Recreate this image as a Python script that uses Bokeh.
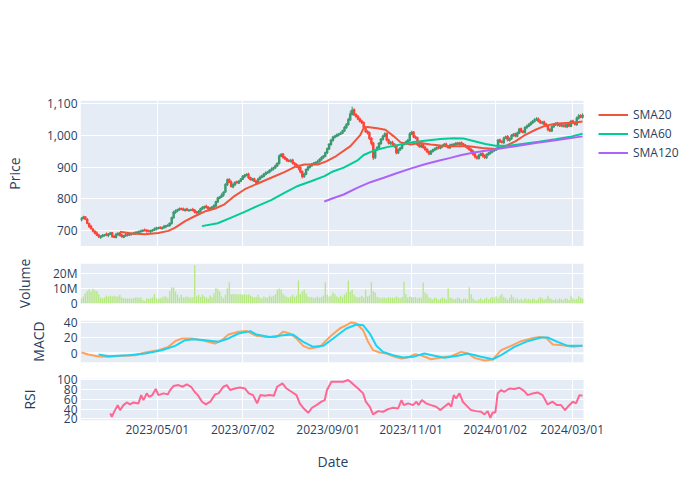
from bokeh.plotting import figure
from bokeh.layouts import column
from bokeh.models import (Range1d, FixedTicker, NumeralTickFormatter, Legend, LegendItem,
                          ColumnDataSource, Span, BoxAnnotation, Title)
from bokeh.embed import file_html
from bokeh.resources import INLINE

# ---------------- data ----------------
tick_pos = [39.5, 84, 128.5, 171.7, 215.5, 255.6]
tick_labels = ["2023/05/01", "2023/07/02", "2023/09/01", "2023/11/01", "2024/01/02", "2024/03/01"]

open_ = [
732,737,743,734,721,713,704,697,691,685,
677,680,683,688,683,687,692,681,677,686,
691,685,678,682,688,684,687,691,688,691,
693,695,697,701,700,698,695,698,700,703,
706,709,705,708,711,713,715,721,739,756,
761,764,769,767,763,767,762,763,766,763,
758,754,759,767,771,776,773,767,769,773,
777,789,801,805,811,821,844,861,853,837,
844,853,849,855,861,869,873,878,867,859,
863,856,849,861,867,871,877,881,884,889,
893,897,903,911,934,941,931,926,921,917,
922,913,909,903,899,886,869,877,891,899,
904,909,911,914,917,923,929,934,944,957,
971,984,994,997,1001,1004,1007,1014,1024,1034,
1049,1067,1081,1066,1061,1053,1046,1041,1026,1013,
1009,991,976,929,954,961,974,987,997,1006,
986,974,979,973,966,944,954,959,971,974,
979,984,1004,1011,996,993,971,964,971,963,
956,949,941,949,954,957,963,959,964,967,
973,966,961,971,967,971,976,971,977,973,
969,966,961,956,951,941,933,927,937,943,
936,929,939,943,947,951,954,959,986,981,
977,991,997,984,989,999,1005,997,1007,1021,
1013,1009,1024,1029,1034,1039,1044,1049,1053,1046,
1039,1043,1036,1031,1019,1014,1027,1034,1039,1031,
1036,1029,1033,1027,1036,1029,1046,1041,1034,1054,
1063,1057]

high = [
741,746,745,739,724,717,706,700,696,689,
684,688,688,693,691,695,694,684,692,694,
694,689,685,691,691,692,692,694,697,698,
699,702,702,706,703,702,701,704,709,711,
711,713,711,717,717,720,724,743,762,766,
768,772,771,772,769,771,766,768,771,767,
760,764,771,776,777,781,776,774,776,783,
793,806,808,817,823,849,864,864,858,849,
855,857,858,865,875,878,880,882,869,866,
866,858,865,873,876,881,886,887,893,899,
901,908,914,940,944,944,935,928,925,926,
926,916,911,907,902,889,882,895,904,910,
913,916,917,923,928,934,938,949,962,976,
989,999,1001,1006,1008,1012,1018,1030,1039,1056,
1078,1091,1086,1070,1064,1057,1050,1044,1030,1016,
1012,994,979,958,966,979,992,1002,1010,1009,
990,982,983,976,969,959,964,975,979,983,
989,1010,1015,1014,1000,996,975,973,974,967,
959,952,954,958,962,965,967,969,971,976,
977,969,974,975,976,979,979,980,981,976,
973,969,965,959,954,945,936,942,946,946,
940,943,948,951,956,958,962,989,990,985,
996,1000,1001,994,1004,1008,1009,1012,1024,1025,
1017,1029,1034,1039,1044,1049,1055,1058,1057,1050,
1046,1047,1040,1034,1023,1032,1039,1042,1043,1039,
1040,1036,1037,1039,1040,1049,1050,1045,1060,1068,
1067,1070]

low = [
728,735,732,719,707,703,693,687,682,675,
673,678,680,681,678,685,676,675,675,682,
680,677,675,679,680,682,683,686,686,687,
689,693,694,696,692,694,691,695,698,699,
702,704,702,705,706,711,711,718,737,752,
757,762,763,761,758,761,758,760,760,753,
750,752,756,764,766,769,764,763,766,769,
773,787,798,802,806,819,840,849,836,833,
840,848,846,852,859,865,871,862,857,855,
853,846,845,859,865,867,873,878,880,886,
889,895,900,908,932,926,922,916,915,915,
908,904,897,890,880,864,866,874,888,895,
901,906,908,910,914,920,926,931,941,954,
967,981,990,994,997,1001,1004,1011,1021,1031,
1046,1063,1062,1056,1048,1041,1036,1021,1008,1003,
986,968,922,925,950,958,970,984,994,981,
971,970,968,961,940,941,951,956,968,971,
975,981,1001,991,988,966,961,960,958,951,
944,937,938,946,950,953,956,956,960,964,
962,958,957,965,963,968,969,967,968,964,
961,956,951,946,935,927,923,924,934,930,
926,926,936,940,944,948,951,956,976,974,
974,988,981,981,986,996,994,994,1004,1008,
1006,1006,1021,1026,1031,1036,1041,1046,1041,1036,
1035,1031,1026,1013,1010,1011,1024,1030,1028,1027,
1026,1025,1024,1023,1026,1026,1036,1031,1031,1050,
1054,1053]

close = [
738,742,735,722,712,705,697,690,684,679,
681,684,686,684,688,691,680,678,687,690,
684,679,683,686,685,688,690,689,692,694,
696,698,700,699,697,696,699,701,704,707,
708,706,709,712,714,716,722,740,757,762,
765,768,766,764,766,763,764,765,762,757,
755,760,768,772,775,772,768,770,774,778,
790,802,806,812,820,845,860,852,838,845,
852,850,856,862,870,874,877,866,860,862,
855,850,862,868,872,878,882,885,890,894,
898,904,912,935,940,930,925,920,918,921,
912,908,902,898,885,870,878,892,900,905,
910,912,915,918,924,930,935,945,958,972,
985,995,998,1002,1005,1008,1015,1025,1035,1050,
1068,1080,1065,1060,1052,1045,1040,1025,1012,1008,
990,975,930,955,962,975,988,998,1005,985,
975,978,972,965,945,955,960,972,975,980,
985,1005,1010,995,992,970,965,970,962,955,
948,942,950,955,958,962,960,965,968,972,
965,962,970,968,972,975,972,976,972,968,
965,960,955,950,940,932,928,938,942,935,
930,940,944,948,952,955,958,985,980,978,
992,996,985,990,1000,1004,998,1008,1020,1012,
1010,1025,1030,1035,1040,1045,1050,1052,1045,1040,
1042,1035,1030,1018,1015,1028,1035,1038,1032,1035,
1030,1032,1028,1035,1030,1045,1040,1035,1055,1062,
1058,1064]

volume_m = [
3.5,4.7,6.9,8.4,9.5,8.0,9.8,8.7,8.4,6.2,
4.0,3.5,4.0,5.3,4.7,5.1,4.7,5.1,4.7,4.7,
5.8,4.0,3.5,3.5,3.3,3.5,3.1,3.5,4.0,4.0,
3.8,4.0,2.4,1.8,3.5,3.1,3.5,4.0,6.2,3.5,
3.1,3.5,4.0,4.7,4.7,3.5,8.4,10.7,10.7,8.0,
5.8,4.0,5.8,4.0,4.2,4.7,4.0,4.0,4.2,25.5,
4.7,5.8,4.4,5.8,4.7,4.0,3.5,5.3,4.4,6.9,
10.2,9.8,8.0,4.7,3.5,5.8,10.2,14.2,6.2,6.4,
6.2,6.2,6.0,6.2,5.8,6.2,5.6,6.0,5.3,4.7,
4.0,4.4,5.8,4.0,3.5,4.7,4.0,3.8,5.3,4.4,
5.1,6.2,9.1,10.0,9.1,6.7,5.3,4.4,4.0,4.7,
5.8,4.4,5.3,15.3,6.2,8.0,9.1,6.7,4.7,4.0,
4.4,3.5,4.0,4.7,3.8,4.4,5.3,14.2,5.8,4.7,
5.1,7.3,6.2,4.7,4.0,5.3,4.4,5.8,7.3,15.3,
8.0,9.1,5.8,4.7,4.0,4.4,5.1,4.0,9.1,4.7,
5.3,14.2,8.4,7.3,4.4,4.0,3.5,4.0,3.8,3.5,
4.4,3.8,4.0,3.5,4.7,4.0,3.5,4.4,14.7,6.2,
4.0,4.7,4.4,4.0,4.4,3.5,4.0,3.8,14.0,7.3,
6.2,4.0,3.5,2.9,4.0,3.5,2.4,3.1,4.0,3.5,
2.9,10.2,4.0,3.5,2.9,3.1,4.0,3.5,2.4,3.1,
3.5,2.7,10.7,6.2,3.5,2.4,1.8,2.9,3.5,2.4,
3.1,4.0,2.7,3.5,4.4,3.8,4.9,3.5,5.3,6.2,
4.4,3.5,2.4,3.8,5.8,4.4,2.7,3.5,2.4,3.1,
2.2,3.5,2.7,3.1,2.4,3.5,2.9,2.2,3.1,4.4,
3.5,2.7,3.1,5.1,3.5,2.9,2.4,3.1,2.2,3.5,
2.9,2.4,3.5,3.1,2.4,5.1,3.5,2.7,3.1,4.7,
3.8,3.1]

sma20_x = [20, 26.2, 33.2, 40, 45.3, 48.8, 54, 59.2, 65, 69.3, 74.5, 79.7, 84.9, 91.8, 98.8,
           105.7, 110.9, 116.1, 123.1, 127.5, 132.5, 140.1, 145.3, 147, 149, 154, 158.3, 162.7,
           166.2, 171.4, 176.6, 181.8, 187, 192.2, 197.4, 201.7, 208.7, 215.6, 220.8, 226,
           231.2, 236.5, 241.7, 246.9, 252.1, 257.3, 261]
sma20_y = [695, 690, 687, 691, 698, 708, 729, 745, 761, 768, 782, 808, 829, 848, 866,
           884, 900, 908, 908, 918, 934, 966, 1002, 1023, 1027, 1023, 1018, 997,
           978, 971, 976, 971, 968, 966, 966, 966, 960, 957, 966, 981,
           1002, 1018, 1031, 1037, 1039, 1041, 1044]

sma60_x = [62.7, 71, 78, 85, 91.8, 98.8, 105.7, 112.7, 119.6, 126.6, 131, 136.6, 143.6, 147,
           152.3, 159.2, 166.2, 173.1, 180, 187, 193.9, 199, 205.2, 210.4, 215.6, 222.6, 229.5,
           238.2, 246.9, 255.5, 261]
sma60_y = [713, 722, 740, 758, 777, 795, 818, 840, 855, 871, 886, 898, 920, 938,
           952, 963, 971, 979, 984, 989, 991, 990, 981, 973, 967, 967, 973,
           980, 988, 997, 1005]

sma120_x = [126.5, 131, 136.6, 143.6, 150.5, 157.5, 164.5, 171.4, 178.4, 185.4, 192.2, 198,
            205.2, 215.6, 226, 236.5, 246.9, 261]
sma120_y = [791, 801, 813, 834, 852, 866, 881, 895, 908, 919, 929, 938,
            947, 956, 966, 976, 985, 997]

macd_x = [0, 3.6, 8.9, 14.1, 21, 28, 33.2, 40.1, 45.3, 48.8, 52.3, 57.5, 62.7, 69.6, 73.1, 76.6,
          81.8, 86, 91.1, 96.4, 101.6, 105, 108.5, 112, 115.5, 118.9, 124.1, 129.3, 134.5, 138,
          140.6, 143.2, 146.7, 149.3, 151.9, 155.4, 158.8, 163.2, 166.7, 169.3, 171.9, 173.4,
          176.9, 182.1, 187.3, 192.6, 197.8, 201.2, 204.7, 209.9, 214.2, 218.6, 223.8, 229,
          234.2, 238.5, 242, 245.5, 250.7, 255.9, 261]
macd_y = [0.9, -1.7, -4.3, -4.7, -3.4, -2.6, 0.9, 3.9, 8.2, 15.5, 19, 19, 16.8, 12.5, 16.8, 24.1,
          27.6, 28.5, 22.4, 21, 21, 27.6, 25.4, 19, 9.5, 6, 8.2, 21, 31.9, 36.2,
          39.7, 38.4, 29.7, 14.7, 3.9, 0.9, -0.4, -4.7, -6.9, -6, -3.4, -1.5,
          -2.6, -7.8, -5.6, -3.9, 1.7, -0.4, -6, -9.5, -8.2, 3.9, 9.5, 15.5,
          19, 21, 19.8, 11.2, 10.3, 8.2, 9.5]

signal_x = [8.9, 14.1, 24.5, 33.2, 41.8, 48.8, 54, 58.3, 64.4, 71.4, 76.6, 81.8, 88, 91.1, 98.1,
            105, 110.2, 115.5, 120.7, 125.9, 131.1, 138, 143.2, 146.7, 150.2, 153.6, 157.1,
            162.3, 167.5, 172.7, 178.6, 183.8, 189, 196, 201.2, 208.1, 214.2, 218.6, 225.5,
            232.4, 239.4, 242.8, 248, 253.3, 261]
signal_y = [-1.7, -3.9, -2.6, -0.4, 3.9, 9.5, 16.8, 18.1, 16.8, 14.7, 19, 25.4, 28.5, 24.1, 21,
            23.3, 24.1, 14.7, 8.2, 9.5, 19, 31.9, 37, 36.2, 25.4, 9.5, 1.7,
            -2.6, -5.6, -4.7, -0.4, -3.4, -6, -3.4, -0.4, -4.7, -7.8, -2.6, 8.2,
            15.5, 20.3, 20.3, 14.7, 9.5, 9.5]

rsi_x = [15, 15.8, 17.2, 18.9, 20.1, 21.9, 23.6, 25.3, 27.1, 29.7,
         31.1, 32.3, 34, 35.2, 36.9, 38.7, 40.1, 42.7, 45, 46.2,
         47.9, 50.5, 52.6, 54.9, 57.1, 58.9, 60.6, 62.8, 64.8, 67.1,
         69.6, 71.4, 73.9, 75.7, 77.4, 80, 82.6, 85.2, 87.2, 89.4,
         91.5, 93.2, 95.5, 98.1, 100.2, 101.9, 104.7, 106.8, 109.4, 112,
         113.7, 115.8, 118.1, 120.1, 122.4, 125, 126.7, 127.9, 130.2, 132.8,
         136.3, 138.9, 141.1, 144.1, 146.7, 148.1, 150.2, 151.9, 154.5, 157.1,
         159.7, 162.3, 164.9, 166.7, 167.9, 170.1, 172.7, 174.5, 175.5, 177.3,
         179.5, 182.1, 184.7, 187, 189, 191.3, 192.6, 193.9, 195.1, 196.9,
         198.6, 200.3, 202.9, 205.5, 208.1, 209.9, 211.6, 213, 214.2, 215.6,
         216.8, 218.6, 220.3, 222.9, 225.5, 228.1, 230.7, 232.4, 235, 237.6,
         240.2, 242.8, 245.4, 247.7, 249.8, 251.9, 253.3, 255.9, 257.6, 259.4,
         261]
rsi_y = [31, 24, 35.7, 48, 37.8, 48, 53.5, 49.4, 53.5, 51.5,
         68.5, 58.3, 72, 65, 68.5, 81, 68.5, 72, 70, 78.8,
         87, 89, 85.6, 90.4, 85.6, 75.4, 68.5, 55, 49.4, 55,
         70, 72, 85.6, 89, 78.8, 82, 84, 82, 72, 68.5,
         51.5, 68.5, 67, 68.5, 67, 85.6, 92.5, 82, 75.4, 68.5,
         51.5, 41, 32.3, 42.6, 48, 55, 58.3, 78.8, 95.9, 95.9,
         95.9, 99.3, 92.5, 82, 72, 55, 44.6, 29, 35.7, 34.4,
         39.8, 42.6, 41, 58.3, 48, 51.5, 48, 55, 48, 58.3,
         51.5, 48, 44.6, 37.8, 44.6, 51.5, 44.6, 68.5, 61.7, 72,
         55, 48, 37.8, 35.7, 34.4, 29, 35.7, 22, 33, 33,
         72, 78.8, 75.4, 82, 81, 83.6, 76.8, 68.5, 72, 74,
         68.5, 49.4, 55, 48, 48, 37.8, 44.6, 55, 51.5, 68.5,
         67]

# ---------------- styling ----------------
FONT = "Open Sans"
TXT = "#2a3f5f"
BG = "#E5ECF6"
INC, DEC = "#3D9970", "#FF4136"

N = len(close)
xs = list(range(N))
# The frame spans to the right edge of the page; the data area (80..583 px) is kept by
# extending the range, and only the data area gets the plot background colour.
PX_PER_UNIT = 503.0 / N
x_end = -0.5 + 620.0 / PX_PER_UNIT
x_range = Range1d(-0.5, x_end)


def make_fig(height, top, bottom, y_range, ylabel, yticks, standoff):
    p = figure(width=700, height=height, x_range=x_range, y_range=y_range,
               output_backend="svg", toolbar_location=None, tools="",
               min_border_left=80, min_border_right=0,
               min_border_top=top, min_border_bottom=bottom)
    p.background_fill_color = "white"
    p.border_fill_color = "white"
    p.outline_line_color = None
    p.add_layout(BoxAnnotation(right=N - 0.5, fill_color=BG, fill_alpha=1.0,
                               line_color=None, level="image"))
    p.xgrid.ticker = FixedTicker(ticks=tick_pos)
    p.grid.grid_line_color = "white"
    p.grid.grid_line_width = 1
    p.grid.level = "underlay"
    p.yaxis.ticker = FixedTicker(ticks=yticks)
    p.yaxis.axis_line_color = None
    p.yaxis.major_tick_line_color = None
    p.yaxis.minor_tick_line_color = None
    p.yaxis.major_tick_out = 0
    p.yaxis.major_label_standoff = 3
    p.yaxis.major_label_text_font = FONT
    p.yaxis.major_label_text_font_size = "12px"
    p.yaxis.major_label_text_color = TXT
    p.yaxis.axis_label = ylabel
    p.yaxis.axis_label_text_font = FONT
    p.yaxis.axis_label_text_font_size = "14px"
    p.yaxis.axis_label_text_font_style = "normal"
    p.yaxis.axis_label_text_color = TXT
    p.yaxis.axis_label_standoff = standoff
    p.xaxis.visible = False
    return p


# Price panel: canvas 0-246, frame 100-246
p1 = make_fig(246, 100, 0, Range1d(648.5, 1110.5), "Price", [700, 800, 900, 1000, 1100], 20)
p1.yaxis.formatter = NumeralTickFormatter(format="0,0")
colors = [INC if c >= o else DEC for o, c in zip(open_, close)]
src = ColumnDataSource(dict(x=xs, o=open_, h=high, l=low, c=close, color=colors))
p1.segment(x0="x", y0="l", x1="x", y1="h", line_color="color", line_width=1, source=src)
p1.vbar(x="x", width=0.55, top="o", bottom="c", fill_color="color", line_color="color",
        line_width=1.4, source=src)
r20 = p1.line(sma20_x, sma20_y, line_color="#EF553B", line_width=2)
r60 = p1.line(sma60_x, sma60_y, line_color="#00CC96", line_width=2)
r120 = p1.line(sma120_x, sma120_y, line_color="#AB63FA", line_width=2)
legend = Legend(items=[LegendItem(label="SMA20", renderers=[r20]),
                       LegendItem(label="SMA60", renderers=[r60]),
                       LegendItem(label="SMA120", renderers=[r120])],
                location=(518, 84), orientation="vertical",
                background_fill_alpha=0, border_line_color=None,
                padding=0, spacing=0, margin=0,
                glyph_width=30, glyph_height=19, label_height=19, label_standoff=5,
                label_text_font=FONT, label_text_font_size="12px", label_text_color=TXT)
p1.add_layout(legend)

# Volume panel: canvas 246-314, frame 263-303
p2 = make_fig(68, 17, 11, Range1d(0, 26.7), "Volume", [0, 10, 20], 16)
p2.yaxis.major_label_overrides = {0: "0", 10: "10M", 20: "20M"}
p2.vbar(x=xs, top=volume_m, width=0.7, fill_color="#B6E880", line_color=None)

# MACD panel: canvas 314-372, frame 320-362
p3 = make_fig(58, 6, 10, Range1d(-12, 42.2), "MACD", [0, 20, 40], 13)
p3.add_layout(Span(location=0, dimension="width", line_color="white", line_width=2, level="underlay"))
p3.line(macd_x, macd_y, line_color="#FFA15A", line_width=2)
p3.line(signal_x, signal_y, line_color="#19D3F3", line_width=2)

# RSI panel: canvas 372-500, frame 378-420
p4 = make_fig(128, 6, 80, Range1d(16.5, 102.5), "RSI", [20, 40, 60, 80, 100], 15)
p4.line(rsi_x, rsi_y, line_color="#FF6692", line_width=2)
p4.xaxis.visible = True
p4.xaxis.ticker = FixedTicker(ticks=tick_pos)
p4.xaxis.major_label_overrides = {t: l for t, l in zip(tick_pos, tick_labels)}
p4.xaxis.axis_line_color = None
p4.xaxis.major_tick_line_color = None
p4.xaxis.minor_tick_line_color = None
p4.xaxis.major_tick_out = 0
p4.xaxis.major_label_standoff = 0
p4.xaxis.major_label_text_font = FONT
p4.xaxis.major_label_text_font_size = "12px"
p4.xaxis.major_label_text_color = TXT
# x axis title, centred under the data area (80..583 px)
date_title = Title(text="Date", align="left", offset=237, standoff=18,
                   text_font=FONT, text_font_size="14px", text_font_style="normal",
                   text_color=TXT)
p4.add_layout(date_title, "below")

layout = column(p1, p2, p3, p4, spacing=0)
open("out.html", "w").write(file_html(layout, INLINE))
